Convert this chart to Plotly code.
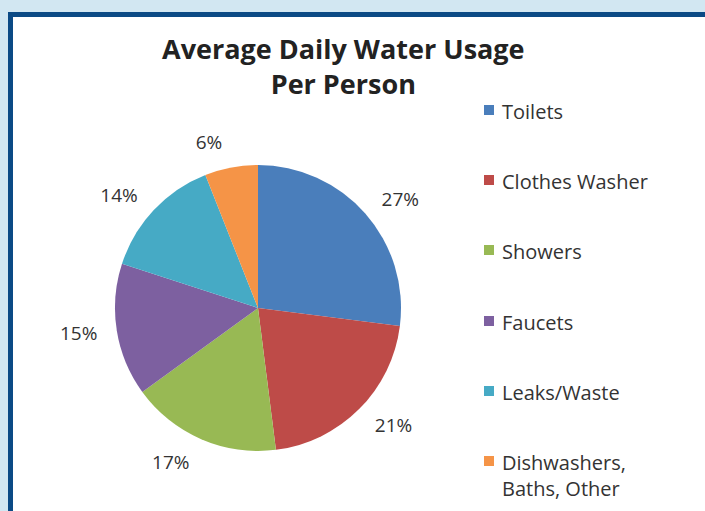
import plotly.graph_objects as go

categories = ["Toilets", "Clothes Washer", "Showers", "Faucets", "Leaks/Waste", "Dishwashers,<br>Baths, Other"]
values = [27, 21, 17, 15, 14, 6]
colors = ["#4A7EBB", "#BE4B48", "#98B954", "#7D60A0", "#46AAC5", "#F59447"]
title_text = "Average Daily Water Usage<br>Per Person"

W, H = 705, 511
def px(x): return x / W
def py(y): return 1 - y / H

FONT = "Open Sans"
CX, CY, R = 258, 308, 143
fig = go.Figure()
fig.add_trace(go.Pie(
    labels=categories, values=values, sort=False, direction="clockwise", rotation=0,
    marker=dict(colors=colors, line=dict(width=0)),
    textinfo="none",
    domain=dict(x=[px(CX - R), px(CX + R)], y=[py(CY + R), py(CY - R)]),
    showlegend=False, hoverinfo="label+percent",
))
R2 = R + 13
fig.add_trace(go.Pie(
    labels=categories, values=values, sort=False, direction="clockwise", rotation=0,
    marker=dict(colors=["rgba(0,0,0,0)"] * len(values), line=dict(width=0)),
    textinfo="percent", textposition="outside",
    textfont=dict(family=FONT, size=19, color="#333333"),
    domain=dict(x=[px(CX - R2), px(CX + R2)], y=[py(CY + R2), py(CY - R2)]),
    showlegend=False, hoverinfo="skip",
))

shapes = [
    dict(type="rect", xref="paper", yref="paper", x0=px(8), x1=px(W + 20), y0=py(12), y1=py(H + 20),
         fillcolor="#0B4A85", line=dict(width=0), layer="below"),
    dict(type="rect", xref="paper", yref="paper", x0=px(13), x1=px(W + 20), y0=py(17), y1=py(H + 20),
         fillcolor="white", line=dict(width=0), layer="below"),
]
annotations = [dict(text="<b>" + title_text.replace("<br>", "</b><br><b>") + "</b>",
                    x=px(343), y=py(28), xref="paper", yref="paper", xanchor="center", yanchor="top",
                    showarrow=False, font=dict(family=FONT, size=27, color="#222222"))]

leg_y = [110, 180, 250, 321, 391, 461]
for i, (name, col) in enumerate(zip(categories, colors)):
    yc = leg_y[i]
    shapes.append(dict(type="rect", xref="paper", yref="paper", x0=px(484), x1=px(494),
                       y0=py(yc + 5), y1=py(yc - 5), fillcolor=col, line=dict(width=0)))
    annotations.append(dict(text=name, x=px(500), y=py(yc - 14), xref="paper", yref="paper",
                            xanchor="left", yanchor="top", align="left", showarrow=False,
                            font=dict(family=FONT, size=20, color="#333333")))

fig.update_layout(
    width=W, height=H, margin=dict(l=0, r=0, t=0, b=0),
    paper_bgcolor="#D2E7F2", plot_bgcolor="white",
    shapes=shapes, annotations=annotations,
)
fig.write_html("out.html", config={"displayModeBar": False},
               post_script="document.body.style.margin='0px';")
